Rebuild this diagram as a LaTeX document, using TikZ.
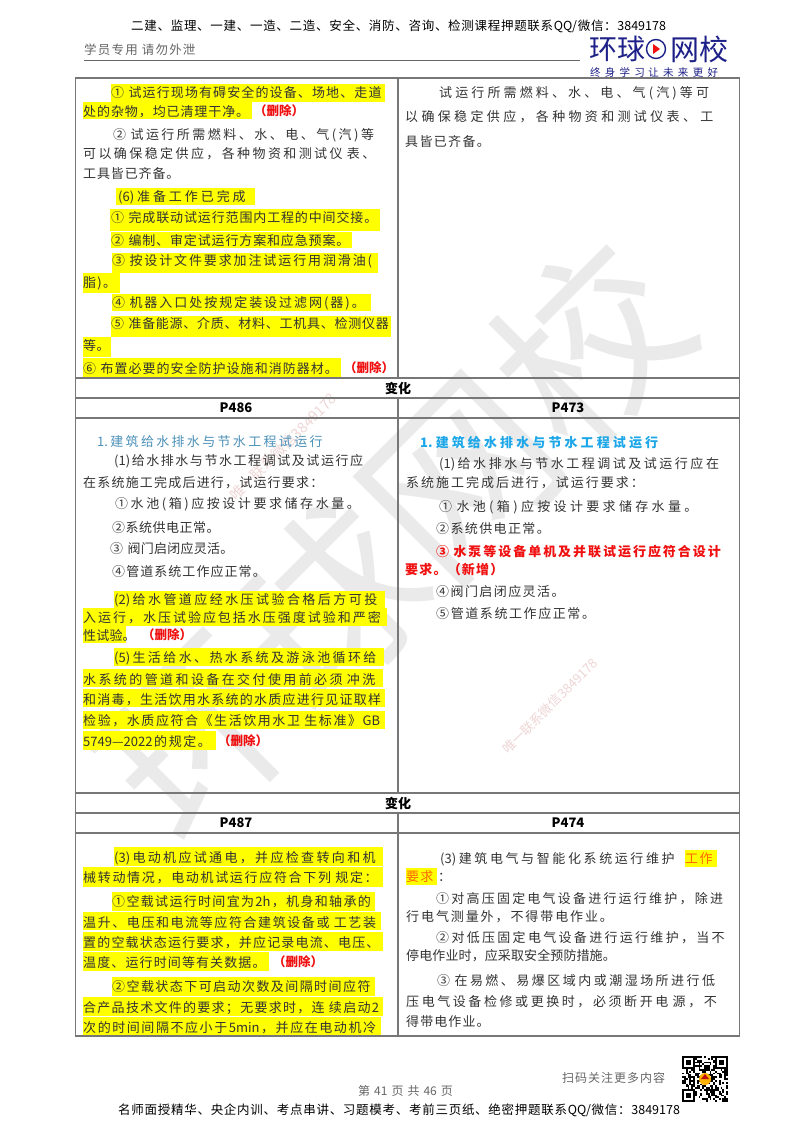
\documentclass[tikz,border=0pt]{standalone}
\usepackage{fontspec}
\setmainfont{Noto Sans CJK SC}
% glue between CJK characters, so a line can be set to a given width
\newXeTeXintercharclass\cjkclass
\newcount\cjkpos
\def\cjkrange#1#2{\cjkpos=#1 \loop\XeTeXcharclass\cjkpos=\cjkclass\advance\cjkpos by 1 \ifnum\cjkpos<#2 \repeat}
\cjkrange{"4E00}{"9FFF}
\cjkrange{"3000}{"30FF}
\cjkrange{"FF00}{"FFEF}
\cjkrange{"2460}{"24FF}
\XeTeXinterchartokenstate=1
\XeTeXinterchartoks\cjkclass\cjkclass={\hskip 0pt plus 8pt\relax}
\XeTeXinterchartoks\cjkclass 0={\hskip 0pt plus 8pt\relax}
\XeTeXinterchartoks 0 \cjkclass={\hskip 0pt plus 8pt\relax}
\hbadness=10000
\tolerance=10000
\newcommand{\fitline}[1]{\noindent\parfillskip=0pt\relax #1\par}
\definecolor{inkgray}{HTML}{333333}
\definecolor{softgray}{HTML}{666666}
\definecolor{rulegray}{HTML}{777777}
\definecolor{markgray}{HTML}{EAEAEA}
\definecolor{markpink}{HTML}{EFD6D6}
\definecolor{hilite}{HTML}{FFFF00}
\definecolor{logonavy}{HTML}{1D2088}
\definecolor{delred}{HTML}{F01010}
\definecolor{headblue}{HTML}{4A90B8}
\definecolor{newblue}{HTML}{1EA7E8}
\tikzset{
	txtline/.style={anchor=west,inner sep=0pt,text height=11pt,text depth=1pt,font=\fontsize{13}{15}\selectfont,text=inkgray},
	delmark/.style={inner sep=0pt,font=\bfseries\fontsize{12.5}{15}\selectfont,text=delred},
	headcell/.style={inner sep=0pt,font=\bfseries\fontsize{13}{15}\selectfont,text=black},
	tblrule/.style={draw=rulegray,line width=1.1pt}
}
\begin{document}
\begin{tikzpicture}[x=1pt,y=-1pt]
	\useasboundingbox (0,0) rectangle (800,1132);
	\fill[white] (0,0) rectangle (800,1132);
	% watermark
	\node[inner sep=0pt,rotate=45,text=markgray,font=\fontsize{185}{190}\selectfont] (bigmark) at (393,540) {环球网校};
	\foreach \x/\y/\z [count=\i] in {283/447/14.5,550/706/13}
	{
		\node[inner sep=0pt,rotate=45,text=markpink,font=\fontsize{\z}{15}\selectfont] (tinymark\i) at (\x,\y) {唯一联系微信3849178};
	}
	% yellow bars
	\foreach \xa/\xb/\ya/\yb in {
		111/385/84/102,83/252/102/119,116/255/188/205,110/380/209/231,111/352/232/248,
		112/378/253/273,83/120/273/293,112/371/294/311,111/391/316/337,83/111/337/357,83/341/358/377,
		114/385/591/608,83/387/608/626,83/126/626/643,114/384/648/666,83/383/669/687,83/385/689/707,83/385/711/729,83/216/731/750,
		114/383/847/866,83/383/867/887,112/375/892/911,83/381/912/930,83/383/932/951,83/269/952/971,112/375/977/996,83/383/997/1016,83/381/1017/1036,
		685/717/850/867,406/437/868/885}
	{
		\fill[hilite] (\xa,\ya) rectangle (\xb,\yb);
	}
	% table
	\foreach \y in {78,378,398,418,793,813,833,1036}
	{
		\draw[tblrule] (75,\y) -- (739.5,\y);
	}
	\draw[tblrule] (75.5,78) -- (75.5,1036);
	\draw[tblrule] (739.5,78) -- (739.5,1036);
	\draw[tblrule] (398,78) -- (398,378);
	\draw[tblrule] (398,398) -- (398,793);
	\draw[tblrule] (398,813) -- (398,1036);
	\foreach \x/\y/\s [count=\i] in {398/388/变化,398/803/变化,236/408/P486,568/408/P473,236/823/P487,568/823/P474}
	{
		\node[headcell] (cell\i) at (\x,\y) {\s};
	}
	% left column
	\foreach \x/\xb/\y/\s [count=\i] in {
		111/385/92/{① 试运行现场有碍安全的设备、场地、走道},
		83/252/111/{处的杂物，均已清理干净。},
		113/382/134/{② 试运行所需燃料、水、电、气(汽)等},
		83/383/153/{可以确保稳定供应，各种物资和测试仪 表、},
		83/182/173/{工具皆已齐备。},
		118/255/196/{(6)准备工作已完成},
		111/380/217/{① 完成联动试运行范围内工程的中间交接。},
		111/352/240/{② 编制、审定试运行方案和应急预案。},
		112/378/260/{③ 按设计文件要求加注试运行用润滑油(},
		83/120/282/{脂)。},
		112/371/302/{④ 机器入口处按规定装设过滤网(器)。},
		111/391/323/{⑤ 准备能源、介质、材料、工机具、检测仪器},
		83/111/345/{等。},
		83/341/368/{⑥ 布置必要的安全防护设施和消防器材。},
		114/368/460/{(1)给水排水与节水工程调试及试运行应},
		83/327/482/{在系统施工完成后进行，试运行要求：},
		115/368/503/{①水池(箱)应按设计要求储存水量。},
		112/221/527/{②系统供电正常。},
		110/234/548/{③ 阀门启闭应灵活。},
		112/269/571/{④管道系统工作应正常。},
		114/385/599/{(2)给水管道应经水压试验合格后方可投},
		83/387/617/{入运行，水压试验应包括水压强度试验和严密},
		83/136/635/{性试验。},
		114/384/657/{(5)生活给水、热水系统及游泳池循环给},
		83/383/679/{水系统的管道和设备在交付使用前必须 冲洗},
		83/385/699/{和消毒，生活饮用水系统的水质应进行见证取样},
		83/385/720/{检验，水质应符合《生活饮用水卫 生标准》GB},
		83/216/741/{5749—2022的规定。},
		114/383/857/{(3)电动机应试通电，并应检查转向和机},
		83/383/877/{械转动情况，电动机试运行应符合下列 规定：},
		112/375/901/{①空载试运行时间宜为2h，机身和轴承的},
		83/381/922/{温升、电压和电流等应符合建筑设备或 工艺装},
		83/383/942/{置的空载状态运行要求，并应记录电流、电压、},
		83/269/962/{温度、运行时间等有关数据。},
		112/375/986/{②空载状态下可启动次数及间隔时间应符},
		83/383/1007/{合产品技术文件的要求；无要求时，连 续启动2},
		83/381/1027/{次的时间间隔不应小于5min，并应在电动机冷}}
	{
		\pgfmathsetmacro\w{\xb-\x}
		\node[txtline,text width=\w pt] (lft\i) at (\x,\y) {\fitline{\s}};
	}
	% right column
	\foreach \x/\xb/\y/\s [count=\i] in {
		439/719/92/{试运行所需燃料、水、电、气(汽)等可},
		405/724/116/{以确保稳定供应，各种物资和测试仪表、 工},
		405/494/141/{具皆已齐备。},
		439/727/463/{(1)给水排水与节水工程调试及试运行应在},
		406/650/482/{系统施工完成后进行，试运行要求：},
		439/708/506/{① 水池(箱)应按设计要求储存水量。},
		436/554/528/{②系统供电正常。},
		436/569/591/{④阀门启闭应灵活。},
		436/600/613/{⑤管道系统工作应正常。},
		440/683/858/{(3)建筑电气与智能化系统运行维护},
		436/730/898/{①对高压固定电气设备进行运行维护，除进},
		406/619/916/{行电气测量外，不得带电作业。},
		436/732/937/{②对低压固定电气设备进行运行维护，当不},
		406/616/955/{停电作业时，应采取安全预防措施。},
		437/723/980/{③ 在易燃、易爆区域内或潮湿场所进行低},
		406/725/1001/{压电气设备检修或更换时，必须断开电 源，不},
		406/493/1021/{得带电作业。}}
	{
		\pgfmathsetmacro\w{\xb-\x}
		\node[txtline,text width=\w pt] (rgt\i) at (\x,\y) {\fitline{\s}};
	}
	\node[txtline] (colon) at (438,876) {：};
	% coloured lines
	\node[txtline,text width=233pt,text=headblue] (lfthead) at (97,441) {\fitline{1.建筑给水排水与节水工程试运行}};
	\node[txtline,text width=248pt,text=newblue,font=\bfseries\fontsize{13}{15}\selectfont] (rgthead) at (420,442) {\fitline{1.建筑给水排水与节水工程试运行}};
	\node[txtline,text width=291pt,text=delred,font=\bfseries\fontsize{13}{15}\selectfont] (newa) at (436,551) {\fitline{③ 水泵等设备单机及并联试运行应符合设计}};
	\node[txtline,text width=102pt,text=delred,font=\bfseries\fontsize{13}{15}\selectfont] (newb) at (405,569) {\fitline{要求。（新增）}};
	\node[txtline,text width=32pt,text=orange!80!red] (worka) at (685,858) {\fitline{工作}};
	\node[txtline,text width=31pt,text=orange!80!red] (workb) at (406,876) {\fitline{要求}};
	\foreach \x/\y [count=\i] in {279/111,369/368,167/635,243/741,298/962}
	{
		\node[delmark] (del\i) at (\x,\y) {（删除）};
	}
	% header and footer
	\node[txtline,text width=537pt,text=black,font=\fontsize{12.5}{15}\selectfont] (toptxt) at (131,26) {\fitline{二建、监理、一建、一造、二造、安全、消防、咨询、检测课程押题联系QQ/微信：3849178}};
	\node[txtline,text width=115pt,text=softgray,font=\fontsize{12.5}{15}\selectfont] (student) at (84,50) {\fitline{学员专用 请勿外泄}};
	\draw[draw=softgray,line width=0.9pt] (84,60) -- (580,60);
	\node[inner sep=0pt,text=logonavy,font=\fontsize{28}{30}\selectfont] (logoa) at (617,49) {环球};
	\node[inner sep=0pt,text=logonavy,font=\fontsize{29}{30}\selectfont] (logob) at (699,49) {网校};
	\draw[logonavy,line width=1.4pt] (656,49) circle (9.5);
	\fill[delred] (653,44) -- (660,49) -- (653,54) --cycle;
	\node[txtline,text width=139pt,text=logonavy,font=\fontsize{10.5}{13}\selectfont] (motto) at (590,72) {\fitline{终身学习 让未来更好}};
	\node[txtline,text width=112pt,text=softgray,font=\fontsize{12}{15}\selectfont] (pageno) at (358,1090) {\fitline{第 41 页 共 46 页}};
	\node[txtline,text width=106pt,text=softgray,font=\fontsize{12}{15}\selectfont] (scanme) at (562,1077) {\fitline{扫码关注更多内容}};
	\node[txtline,text width=564pt,text=black,font=\fontsize{12.5}{15}\selectfont] (bottxt) at (118,1109) {\fitline{名师面授精华、央企内训、考点串讲、习题模考、考前三页纸、绝密押题联系QQ/微信：3849178}};
	% qr code
	\pgfmathsetseed{41}
	\foreach \x in {0,...,24}
	\foreach \y in {0,...,24}
	{
		\pgfmathrandominteger{\r}{0}{1}
		\ifnum\r=1
			\fill[black] (682+\x*1.84,1056+\y*1.84) rectangle ++(1.84,1.84);
		\fi
	}
	\foreach \x/\y in {682/1056,715.1/1056,682/1089.1}
	{
		\fill[white] (\x-0.5,\y-0.5) rectangle ++(13.9,13.9);
		\fill[black] (\x,\y) rectangle ++(12.9,12.9);
		\fill[white] (\x+1.84,\y+1.84) rectangle ++(9.2,9.2);
		\fill[black] (\x+3.7,\y+3.7) rectangle ++(5.5,5.5);
	}
	\fill[orange!60!yellow] (705,1079) circle (6);
	\fill[delred!80!black] (701,1079) -- (705,1074) -- (709,1079) --cycle;
\end{tikzpicture}
\end{document}
